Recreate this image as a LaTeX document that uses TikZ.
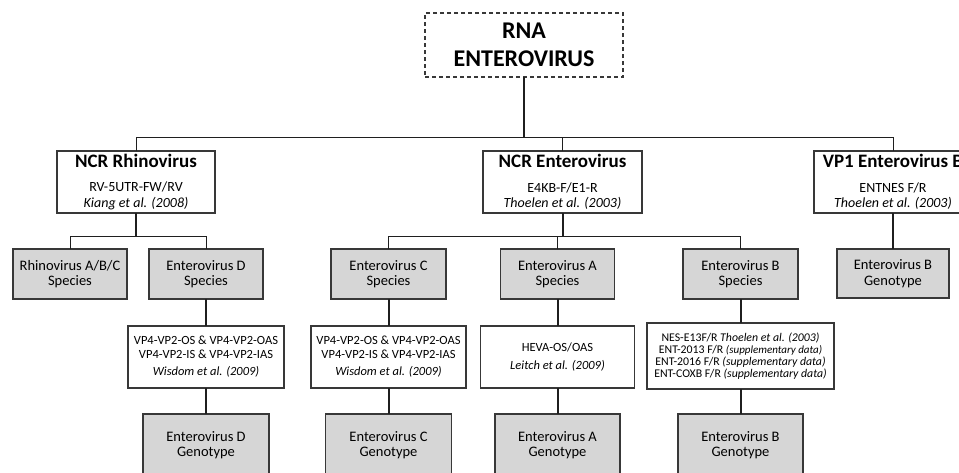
\documentclass[tikz,border=0pt]{standalone}
\usepackage{fontspec}
\setmainfont{Carlito}
\begin{document}
\begin{tikzpicture}[x=1pt,y=-1pt,
  every node/.style={inner sep=0pt, outer sep=0pt, text=black},
  basebox/.style={draw=black!78, line width=1.1pt, align=center, anchor=center},
  hdrbox/.style={basebox, fill=white, minimum width=158pt, minimum height=62pt,
    font=\fontsize{14}{15.5}\selectfont},
  graybox/.style={basebox, fill=black!16, minimum width=114pt, minimum height=50pt,
    font=\fontsize{14.5}{15.5}\selectfont},
  genobox/.style={basebox, fill=black!16, minimum width=125pt, minimum height=62pt,
    font=\fontsize{14.5}{15.5}\selectfont},
  primbox/.style={basebox, fill=white, minimum width=155pt, minimum height=62pt,
    font=\fontsize{12.5}{14}\selectfont},
  thinln/.style={draw=black!88, line width=1pt},
  thickln/.style={draw=black!88, line width=2pt}]
\useasboundingbox (0,0) rectangle (959,472);
\clip (0,0) rectangle (959,472);
\fill[white] (0,0) rectangle (959,472);

% root
\node[basebox, dashed, dash pattern=on 4pt off 3pt, fill=white, minimum width=198pt, minimum height=64pt,
  font=\fontsize{24}{27.5}\selectfont\bfseries] (root) at (524,45) {RNA\\ENTEROVIRUS};

% headers
\node[hdrbox] (rhino) at (136,182) {{\fontsize{19}{21}\selectfont\bfseries NCR Rhinovirus}\\[9pt]RV-5UTR-FW/RV\\{\itshape Kiang et al. (2008)}};
\node[hdrbox, minimum width=159pt] (ncre) at (562.5,182) {{\fontsize{19}{21}\selectfont\bfseries NCR Enterovirus}\\[9pt]E4KB-F/E1-R\\{\itshape Thoelen et al. (2003)}};
\node[hdrbox] (vp1) at (893,182) {{\fontsize{19}{21}\selectfont\bfseries VP1 Enterovirus B}\\[9pt]ENTNES F/R\\{\itshape Thoelen et al. (2003)}};

% species
\node[graybox] (rabc) at (70,274) {Rhinovirus A/B/C\\Species};
\node[graybox] (dsp) at (206,274) {Enterovirus D\\Species};
\node[graybox, minimum width=115pt] (csp) at (388.5,274) {Enterovirus C\\Species};
\node[graybox] (asp) at (557.5,274) {Enterovirus A\\Species};
\node[graybox, minimum width=115pt] (bsp) at (740.5,274) {Enterovirus B\\Species};
\node[graybox, minimum width=112pt, minimum height=49pt] (vbg) at (893,273.5) {Enterovirus B\\Genotype};

% primers
\node[primbox, minimum width=156pt] (dpr) at (206,357) {VP4-VP2-OS \& VP4-VP2-OAS\\VP4-VP2-IS \& VP4-VP2-IAS\\[3pt]{\itshape Wisdom et al. (2009)}};
\node[primbox] (cpr) at (388.5,357) {VP4-VP2-OS \& VP4-VP2-OAS\\VP4-VP2-IS \& VP4-VP2-IAS\\[3pt]{\itshape Wisdom et al. (2009)}};
\node[primbox, minimum width=154pt] (apr) at (557.5,357) {HEVA-OS/OAS\\[4pt]{\itshape Leitch et al. (2009)}};
\node[primbox, minimum width=187pt, minimum height=66pt, font=\fontsize{11.8}{12.2}\selectfont] (bpr) at (740.5,356)
  {NES-E13F/R {\itshape Thoelen et al. (2003)}\\
   ENT-2013 F/R {\fontsize{11}{12}\selectfont\itshape (supplementary data)}\\
   ENT-2016 F/R {\fontsize{11.8}{12}\selectfont\itshape (supplementary data)}\\
   ENT-COXB F/R {\fontsize{11.8}{12}\selectfont\itshape (supplementary data)}};

% genotypes
\node[genobox, minimum width=126pt] (dgt) at (206,445) {Enterovirus D\\Genotype};
\node[genobox, minimum width=126pt] (cgt) at (388.5,445) {Enterovirus C\\Genotype};
\node[genobox] (agt) at (557.5,445) {Enterovirus A\\Genotype};
\node[genobox] (bgt) at (740.5,445) {Enterovirus B\\Genotype};

% level 1 connectors
\coordinate (busa) at (0,137);
\draw[thickln] (root.south) -- (root.south |- busa);
\draw[thinln] (rhino.north) -- (rhino.north |- busa) -- (vp1.north |- busa) -- (vp1.north);
\draw[thinln] (ncre.north) -- (ncre.north |- busa);

% level 2 connectors
\coordinate (busb) at (0,236);
\draw[thickln] (rhino.south) -- (rhino.south |- busb);
\draw[thinln] (rabc.north) -- (rabc.north |- busb) -- (dsp.north |- busb) -- (dsp.north);
\draw[thickln] (ncre.south) -- (ncre.south |- busb);
\draw[thinln] (csp.north) -- (csp.north |- busb) -- (bsp.north |- busb) -- (bsp.north);
\draw[thinln] (asp.north) -- (asp.north |- busb);
\draw[thickln] (vp1.south) -- (vbg.north);

% vertical chains
\draw[thickln] (dsp.south) -- (dpr.north);
\draw[thickln] (dpr.south) -- (dgt.north);
\draw[thickln] (csp.south) -- (cpr.north);
\draw[thickln] (cpr.south) -- (cgt.north);
\draw[thickln] (asp.south) -- (apr.north);
\draw[thickln] (apr.south) -- (agt.north);
\draw[thickln] (bsp.south) -- (bpr.north);
\draw[thickln] (bpr.south) -- (bgt.north);
\end{tikzpicture}
\end{document}
